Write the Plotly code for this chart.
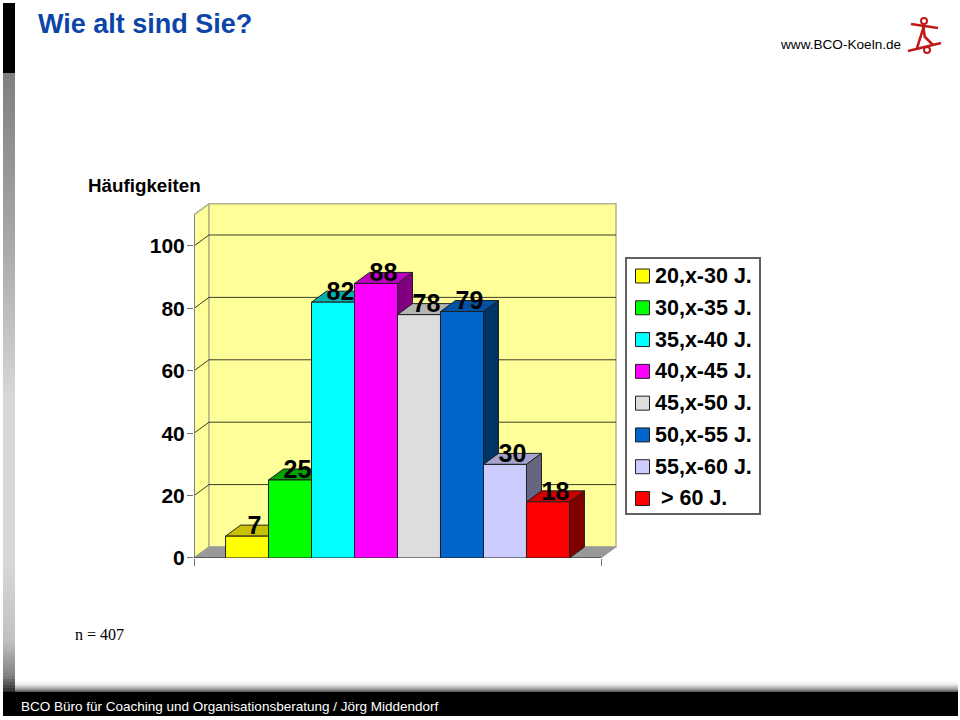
import plotly.graph_objects as go

# ---- data ----
categories = ["20,x-30 J.", "30,x-35 J.", "35,x-40 J.", "40,x-45 J.",
              "45,x-50 J.", "50,x-55 J.", "55,x-60 J.", "\u00a0> 60 J."]
values = [7, 25, 82, 88, 78, 79, 30, 18]
y_ticks = [0, 20, 40, 60, 80, 100]
front_colors = ["#FFFF00", "#00FF00", "#00FFFF", "#FF00FF", "#DDDDDD", "#0066CC", "#CCCCFF", "#FF0000"]
top_colors = ["#C8C000", "#00A000", "#00B0B0", "#C000C0", "#B4B4B4", "#0052A3", "#A3A3CC", "#CC0000"]
side_colors = ["#808000", "#008000", "#008080", "#800080", "#6F6F6F", "#003366", "#666680", "#800000"]

title_text = "Wie alt sind Sie?"
axis_title = "Häufigkeiten"
site_text = "www.BCO-Koeln.de"
n_text = "n = 407"
footer_text = "BCO Büro für Coaching und Organisationsberatung / Jörg Middendorf"

# ---- geometry helpers (3D look, in axis units) ----
W, H = 960, 720
Y_MAX = 110
X_MAX = 8
DX = 0.295      # oblique depth along x
DY = 3.53       # oblique depth along y
BAR_W = 0.845
LINE = "#202020"
PX_PER_X = 50.875
PX_PER_Y = 3.12
X_TOP = X_MAX + DX + 0.06
Y_TOP = Y_MAX + DY + 1.0
LABEL_DROP = 0.8   # value labels sit slightly below the back edge of the bar top

def px(x): return x / W
def py(y): return 1 - y / H

fig = go.Figure()

def poly(xs, ys, fill, line=LINE, lw=1):
    fig.add_trace(go.Scatter(x=xs + xs[:1], y=ys + ys[:1], mode="lines", fill="toself",
                             fillcolor=fill, line=dict(color=line, width=lw),
                             hoverinfo="skip", showlegend=False, cliponaxis=False))

def path(xs, ys, color, lw):
    fig.add_trace(go.Scatter(x=xs, y=ys, mode="lines", line=dict(color=color, width=lw),
                             hoverinfo="skip", showlegend=False, cliponaxis=False))

# walls and floor
WALL = "#FFFF99"
EDGE = "#B4B48C"
poly([0, DX, DX, 0], [0, DY, Y_MAX + DY, Y_MAX], WALL, EDGE, 1.5)
poly([DX, X_MAX + DX, X_MAX + DX, DX], [DY, DY, Y_MAX + DY, Y_MAX + DY], WALL, EDGE, 1.5)
poly([0, X_MAX, X_MAX + DX, DX], [0, 0, DY, DY], "#999999", "#999999", 1)

# gridlines
for v in y_ticks[1:]:
    path([0, DX, X_MAX + DX], [v, v + DY, v + DY], "#3C3C28", 1)

# axis lines
path([0, 0], [0, Y_MAX], "#808080", 2)
path([0, X_MAX], [0, 0], LINE, 1)

# bars
n = len(values)
lefts = [X_MAX / 2 + (i - n / 2) * BAR_W for i in range(n)]
for i, v in enumerate(values):
    l, r = lefts[i], lefts[i] + BAR_W
    poly([l, r, r + DX, l + DX], [v, v, v + DY, v + DY], top_colors[i])
    poly([r, r + DX, r + DX, r], [0, DY, v + DY, v], side_colors[i])
    poly([l, r, r, l], [0, 0, v, v], front_colors[i])

# value labels
fig.add_trace(go.Scatter(x=[l + BAR_W / 2 + DX / 2 for l in lefts],
                         y=[v + DY - LABEL_DROP for v in values],
                         mode="text", text=[f"<b>{v}</b>" for v in values],
                         textposition="middle center",
                         textfont=dict(family="Liberation Sans", size=25, color="#000000"),
                         hoverinfo="skip", showlegend=False, cliponaxis=False))

# legend panel as its own small subplot
idx = list(range(n))
fig.add_trace(go.Scatter(x=[15.5] * n, y=idx, mode="markers", xaxis="x2", yaxis="y2",
                         marker=dict(symbol="square", size=14, color=front_colors,
                                     line=dict(color="#202020", width=1)),
                         hoverinfo="skip", showlegend=False))
fig.add_trace(go.Scatter(x=[28] * n, y=[i + 0.05 for i in idx], mode="text", xaxis="x2", yaxis="y2",
                         text=[f"<b>{c}</b>" for c in categories], textposition="middle right",
                         textfont=dict(family="Liberation Sans", size=21.5, color="#000000"),
                         hoverinfo="skip", showlegend=False, cliponaxis=False))

# ---- page decoration ----
shapes = []
def rect(x0, y0, x1, y1, c):
    shapes.append(dict(type="rect", xref="paper", yref="paper", x0=px(x0), x1=px(x1),
                       y0=py(y0), y1=py(y1), fillcolor=c, line=dict(width=0), layer="below"))

def lerp_stops(stops, y):
    for (a, ca), (b, cb) in zip(stops, stops[1:]):
        if a <= y <= b:
            return ca + (cb - ca) * (y - a) / (b - a)
    return stops[-1][1]

side_stops = [(73, 128), (240, 168), (400, 216), (560, 216), (640, 192), (675, 128), (692, 32)]
for y in range(73, 692, 3):
    g = round(lerp_stops(side_stops, y))
    rect(3, y, 15, y + 3, f"rgb({g},{g},{g})")
rect(3, 3, 15, 73, "#000000")
fade_stops = [(680, 255), (684, 235), (688, 170), (692, 70)]
for y in range(680, 692):
    g = round(lerp_stops(fade_stops, y))
    rect(15, y, 958, y + 1, f"rgb({g},{g},{g})")
rect(3, 692, 958, 716, "#000000")

# logo
RED = "#C01818"
def seg(x0, y0, x1, y1, w=2.5):
    shapes.append(dict(type="line", xref="paper", yref="paper", x0=px(x0), x1=px(x1),
                       y0=py(y0), y1=py(y1), line=dict(color=RED, width=w)))
def circ(cx, cy, r):
    shapes.append(dict(type="circle", xref="paper", yref="paper", x0=px(cx - r), x1=px(cx + r),
                       y0=py(cy + r), y1=py(cy - r), line=dict(color=RED, width=2)))
seg(911, 24, 938, 28)
seg(923, 25, 925, 38)
seg(924, 26, 917, 48)
seg(925, 37, 933, 45)
seg(908, 51, 941, 43)
circ(924, 21, 3)
circ(927, 50, 3)

def note(x, y, text, size, color="#000000", family="Liberation Sans", bold=False):
    return dict(xref="paper", yref="paper", x=px(x), y=py(y), xanchor="left", yanchor="middle",
                showarrow=False, borderpad=0, text=f"<b>{text}</b>" if bold else text,
                font=dict(family=family, size=size, color=color))

annotations = [
    note(37, 24, title_text, 27, "#0B45A8", bold=True),
    note(87, 186, axis_title, 18.8, bold=True),
    note(779, 44, site_text, 13.6),
    note(74, 634, n_text, 16, family="Liberation Serif"),
    note(20, 706, footer_text, 13.5, "#FFFFFF"),
]

fig.update_layout(
    template="none",
    width=W, height=H, margin=dict(l=0, r=0, t=0, b=0, pad=0, autoexpand=False), autosize=False,
    paper_bgcolor="white", plot_bgcolor="rgba(0,0,0,0)", showlegend=False,
    shapes=shapes, annotations=annotations,
    xaxis=dict(domain=[px(194), px(194 + X_TOP * PX_PER_X)], range=[0, X_TOP], tickmode="array",
               tickvals=[0, X_MAX], ticktext=["", ""], ticks="outside", ticklen=7,
               tickcolor="#707070", showgrid=False, zeroline=False, showline=False,
               automargin=False, fixedrange=True, anchor="y"),
    yaxis=dict(domain=[py(558), py(558 - Y_TOP * PX_PER_Y)], range=[0, Y_TOP], tickmode="array",
               tickvals=y_ticks, ticktext=[f"<b>{t}</b>" for t in y_ticks],
               ticks="outside", ticklen=6, tickcolor="#707070",
               tickfont=dict(family="Liberation Sans", size=21, color="#000000"),
               ticklabelstandoff=-2, showgrid=False, zeroline=False, showline=False,
               automargin=False, fixedrange=True, anchor="x"),
    xaxis2=dict(domain=[px(627), px(759)], range=[0, 132], showticklabels=False, ticks="",
                showgrid=False, zeroline=False, showline=True, mirror=True, automargin=False,
                linecolor="#606060", linewidth=2, fixedrange=True, anchor="y2"),
    yaxis2=dict(domain=[py(513), py(259)], range=[7.456, -0.535], showticklabels=False, ticks="",
                showgrid=False, zeroline=False, showline=True, mirror=True, automargin=False,
                linecolor="#606060", linewidth=2, fixedrange=True, anchor="x2"),
)

fig.write_html("out.html", config=dict(displayModeBar=False),
               post_script="document.body.style.margin='0';document.body.style.overflow='hidden';")
